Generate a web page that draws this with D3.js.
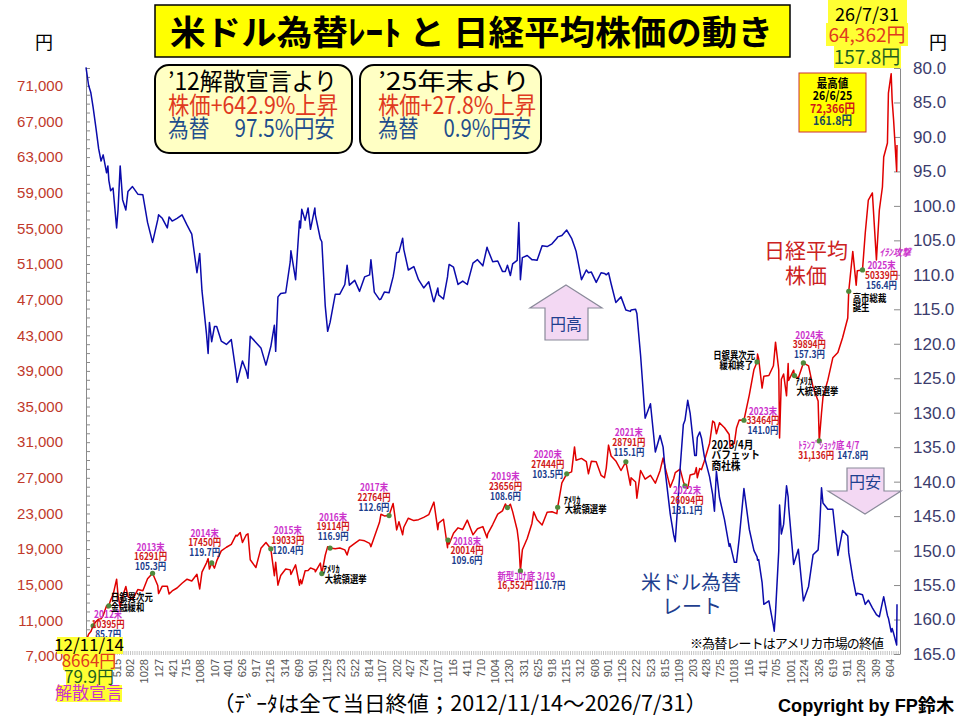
<!DOCTYPE html>
<html><head><meta charset="utf-8">
<script src="https://cdn.jsdelivr.net/npm/d3@7"></script>
<style>body{margin:0;background:#fff}svg{display:block}</style>
</head><body><svg id="c" width="960" height="720"></svg>
<script>
// ---------------- DATA ----------------
const dates = ["2012-11-14","2012-11-30","2012-12-14","2012-12-28","2013-01-15","2013-01-31","2013-02-15","2013-02-28","2013-03-21","2013-03-29","2013-04-04","2013-04-15","2013-04-30","2013-05-22","2013-05-31","2013-06-13","2013-06-28","2013-07-18","2013-07-31","2013-08-28","2013-09-30","2013-10-31","2013-11-29","2013-12-30","2014-01-31","2014-02-05","2014-02-28","2014-03-31","2014-04-11","2014-04-30","2014-05-30","2014-06-30","2014-07-31","2014-08-29","2014-09-30","2014-10-17","2014-10-31","2014-11-28","2014-12-08","2014-12-16","2014-12-30","2015-01-16","2015-01-30","2015-02-27","2015-03-31","2015-04-30","2015-05-29","2015-06-05","2015-06-24","2015-07-08","2015-07-31","2015-08-11","2015-08-25","2015-09-29","2015-10-30","2015-11-30","2015-12-30","2016-01-21","2016-01-29","2016-02-12","2016-02-29","2016-03-31","2016-04-28","2016-05-02","2016-05-31","2016-06-24","2016-06-30","2016-07-08","2016-07-29","2016-08-16","2016-08-31","2016-09-27","2016-09-30","2016-10-31","2016-11-09","2016-11-30","2016-12-15","2016-12-30","2017-01-31","2017-02-28","2017-03-31","2017-04-14","2017-04-28","2017-05-31","2017-06-30","2017-07-31","2017-08-31","2017-09-08","2017-09-29","2017-10-31","2017-11-09","2017-11-30","2017-12-29","2018-01-23","2018-01-31","2018-02-14","2018-02-28","2018-03-23","2018-03-30","2018-04-27","2018-05-31","2018-06-29","2018-07-31","2018-08-31","2018-09-28","2018-10-02","2018-10-26","2018-10-31","2018-11-30","2018-12-25","2018-12-28","2019-01-04","2019-01-31","2019-02-28","2019-03-29","2019-04-26","2019-05-31","2019-06-28","2019-07-31","2019-08-26","2019-08-30","2019-09-30","2019-10-31","2019-11-29","2019-12-17","2019-12-30","2020-01-17","2020-01-31","2020-02-28","2020-03-09","2020-03-19","2020-03-31","2020-04-30","2020-05-29","2020-06-09","2020-06-30","2020-07-31","2020-08-31","2020-09-30","2020-10-30","2020-11-04","2020-11-30","2020-12-30","2021-01-29","2021-02-16","2021-02-26","2021-03-31","2021-04-30","2021-05-13","2021-05-31","2021-06-30","2021-07-30","2021-08-20","2021-08-31","2021-09-14","2021-09-30","2021-10-29","2021-11-30","2021-12-30","2022-01-27","2022-01-31","2022-02-28","2022-03-08","2022-03-31","2022-04-28","2022-05-31","2022-06-30","2022-07-29","2022-08-17","2022-08-31","2022-09-30","2022-10-21","2022-10-31","2022-11-30","2022-12-20","2022-12-30","2023-01-16","2023-01-31","2023-02-28","2023-03-10","2023-03-16","2023-03-31","2023-04-11","2023-04-28","2023-05-31","2023-06-19","2023-06-30","2023-07-12","2023-07-31","2023-08-31","2023-09-29","2023-10-04","2023-10-31","2023-11-13","2023-11-30","2023-12-29","2024-01-31","2024-02-29","2024-03-19","2024-03-22","2024-03-29","2024-04-19","2024-04-30","2024-05-31","2024-06-28","2024-07-03","2024-07-11","2024-07-31","2024-08-05","2024-08-16","2024-08-30","2024-09-17","2024-09-27","2024-09-30","2024-10-31","2024-11-05","2024-11-29","2024-12-30","2025-01-31","2025-02-28","2025-03-31","2025-04-07","2025-04-21","2025-04-30","2025-05-30","2025-06-30","2025-07-31","2025-08-29","2025-09-30","2025-10-06","2025-10-31","2025-11-21","2025-11-28","2025-12-30","2026-01-16","2026-02-04","2026-03-01","2026-03-26","2026-04-13","2026-05-02","2026-05-10","2026-06-02","2026-06-08","2026-06-25","2026-07-01","2026-07-10","2026-07-29","2026-07-31"];

const nikkei = [8664,9446,9737,10395,10879,11139,11174,11559,12636,12398,12634,13275,13861,15627,13774,12445,13677,14808,13668,13338,14456,14328,15662,16291,14915,14008,14841,14828,13960,14304,14632,15162,15621,15425,16174,14532,16414,17460,17935,16756,17450,16864,17674,18798,19207,19520,20563,20461,20868,19737,20585,20720,17806,16930,19083,19747,19033,16017,17518,14952,16027,16758,16666,16147,17234,14952,15575,15106,16569,16596,16887,16683,16449,17425,16251,18308,19273,19114,19041,19119,18909,18335,19197,19650,20033,19925,19646,19275,20356,22011,22913,22724,22764,24124,23098,21154,22068,20617,21454,22468,22202,22305,22554,22865,24120,24270,21184,21920,22351,19155,20014,19561,20773,21385,21206,22259,20601,21276,21522,20261,20704,21756,22927,23294,24066,23656,24041,23205,21143,19698,16552,18917,20194,21878,23178,22288,21710,23140,23185,22977,23695,26434,27444,27663,30467,28966,29179,28813,27448,28860,28792,27284,27013,28090,30670,29453,28893,27822,28791,26170,27002,26527,24718,27821,26848,27280,26393,27802,29222,28092,25937,26891,27587,27969,26568,26094,25822,27327,27446,28144,27011,28041,27923,28856,30888,33370,33189,31943,33172,32619,31858,30526,30859,32585,33487,33464,36287,39166,40004,40888,40369,37068,38406,38488,39583,40580,42224,39102,31458,38063,38648,36203,39830,37920,39081,38474,38208,39894,39572,37156,35618,31136,34280,36045,37965,40487,41070,42718,44933,47944,52411,48626,50254,50339,54480,58180,58970,51450,57060,59640,63010,64580,70190,72366,69400,67160,61400,64362];

const usdjpy = [79.9,82.5,83.6,85.7,88.8,91.7,93.5,92.6,95.2,94.2,96.3,97.8,97.4,103.2,100.5,94.2,99.1,100.6,97.9,97.2,98.3,98.4,102.4,105.3,102.0,101.3,101.8,103.2,101.6,102.2,101.8,101.3,102.8,104.1,109.7,106.9,112.3,118.6,121.4,116.9,119.7,117.5,117.5,119.6,120.1,119.4,124.1,125.6,123.8,122.5,123.9,125.0,118.9,119.8,120.6,123.1,120.4,117.3,121.1,113.2,112.7,112.6,108.1,106.5,110.7,102.2,103.2,100.5,102.1,100.3,103.4,100.3,101.3,104.8,105.2,114.5,118.2,116.9,112.8,112.8,111.4,108.6,111.5,110.8,112.4,110.3,110.0,107.8,112.5,113.6,113.5,112.5,112.6,110.3,109.2,106.8,106.7,104.7,106.3,109.3,108.8,110.7,111.9,111.0,113.7,113.9,111.9,112.9,113.5,110.3,109.6,108.5,108.9,111.4,110.9,111.4,108.3,107.8,108.7,106.0,106.3,108.1,108.0,109.5,109.5,108.6,110.1,108.4,107.9,102.4,110.7,107.5,107.2,107.8,107.8,107.9,105.8,105.9,105.5,104.7,104.5,104.3,103.5,104.7,105.9,106.6,110.7,109.3,109.7,109.6,111.1,109.7,109.8,110.0,109.7,111.3,114.0,113.2,115.1,115.3,115.1,115.0,115.6,121.7,130.8,128.7,135.7,133.3,135.0,138.7,144.7,147.7,148.7,138.1,131.7,131.1,128.2,130.1,136.2,136.2,133.6,132.8,133.7,136.3,139.3,141.9,144.3,138.5,142.3,145.5,149.4,149.0,151.7,151.7,148.2,141.0,146.9,150.0,150.9,151.4,151.3,154.6,157.8,157.3,160.9,161.7,159.0,150.0,143.4,147.6,146.2,140.6,142.2,143.6,152.0,151.6,149.8,157.3,155.2,150.6,149.9,147.8,140.9,143.1,144.0,144.0,150.7,147.1,147.9,150.3,154.0,156.5,156.2,156.4,157.8,157.2,158.3,159.3,159.6,157.5,156.7,159.4,159.8,161.8,161.3,162.0,163.7,157.8];

const leftTickValues = [7000,11000,15000,19000,23000,27000,31000,35000,39000,43000,47000,51000,55000,59000,63000,67000,71000];
const rightTickValues = [80,85,90,95,100,105,110,115,120,125,130,135,140,145,150,155,160,165];
const xTickDates = ["2012-11-14","2013-02-13","2013-05-15","2013-08-02","2013-10-28","2014-01-27","2014-04-21","2014-07-15","2014-10-08","2015-01-07","2015-04-01","2015-06-26","2015-09-17","2015-12-16","2016-03-14","2016-06-09","2016-09-01","2016-11-29","2017-02-23","2017-05-22","2017-08-14","2017-11-07","2018-02-02","2018-04-27","2018-07-24","2018-10-17","2019-01-16","2019-04-11","2019-07-10","2019-10-04","2019-12-30","2020-03-31","2020-06-25","2020-09-18","2020-12-15","2021-03-12","2021-06-08","2021-09-01","2021-11-26","2022-02-22","2022-05-23","2022-08-15","2022-11-09","2023-02-03","2023-04-28","2023-07-25","2023-10-18","2024-01-16","2024-04-11","2024-07-05","2024-10-01","2024-12-24","2025-03-26","2025-06-19","2025-09-11","2025-12-09","2026-03-09","2026-06-04"];

// year-end notes: date, label, nikkei text, fx text
const yearEndDates  = ["2012-12-28","2013-12-30","2014-12-30","2015-12-30","2016-12-30","2017-12-29","2018-12-28","2019-12-30","2020-12-30","2021-12-30","2022-12-30","2023-12-29","2024-12-30","2025-12-30"];
const yearEndLabels = ["2012末","2013末","2014末","2015末","2016末","2017末","2018末","2019末","2020末","2021末","2022末","2023末","2024末","2025末"];
const yearEndNk     = ["10395円","16291円","17450円","19033円","19114円","22764円","20014円","23656円","27444円","28791円","26094円","33464円","39894円","50339円"];
const yearEndFx     = ["85.7円","105.3円","119.7円","120.4円","116.9円","112.6円","109.6円","108.6円","103.5円","115.1円","131.1円","141.0円","157.3円","156.4円"];
// label offsets from the point (layout)
const yearEndOff = [[15,-11],[-2,-26],[-7,-30],[17,-18],[3,-31],[-15,-28],[19,1],[-2,-31],[-19,-19],[3,-29],[2,5],[19,-9],[6,-28],[19,-4]];

// ---------------- SETUP ----------------
const JP = "'Noto Sans CJK JP','Noto Sans',sans-serif";
const LAT = "'Liberation Sans',Arial,'Noto Sans CJK JP',sans-serif";
const parse = d3.timeParse("%Y-%m-%d");
const series = dates.map((d,i)=>({date:parse(d), nk:nikkei[i], fx:usdjpy[i]}));
const svg = d3.select("#c");

const x  = d3.scaleTime().domain([parse("2012-11-14"), parse("2026-07-31")]).range([86, 897]);
const yL = d3.scaleLinear().domain([7000, 73000]).range([656, 68]);
const yR = d3.scaleLinear().domain([80, 165]).range([68, 654]);

const MAG="#cc33cc", RED="#d01818", BLU="#1a3c8c", GRN="#4f8a3c";

// ---------------- AXES ----------------
svg.append("line").attr("x1",86).attr("x2",900).attr("y1",653).attr("y2",653)
  .attr("stroke","#c4c4c4").attr("stroke-width",4).attr("stroke-dasharray","1,1.2");

const fmtX = d3.timeFormat("%-m%d");
svg.append("g").selectAll("text").data(xTickDates.map(parse)).join("text")
  .attr("transform", d=>`translate(${x(d)+2},659) rotate(-90)`)
  .attr("text-anchor","end").attr("dy","0.35em")
  .style("font-family",LAT).style("font-size","11px").attr("fill","#555")
  .text(d=>fmtX(d));

const leftMinor = d3.range(7000, 73001, 1000);
const gL = svg.append("g").attr("transform","translate(86,0)")
  .call(d3.axisRight(yL).tickValues(leftMinor).tickSize(4).tickSizeOuter(0).tickFormat(""));
gL.selectAll("path,line").attr("stroke","#8a8a8a");
const gLl = svg.append("g").attr("transform","translate(63,0)")
  .call(d3.axisLeft(yL).tickValues(leftTickValues).tickSize(0).tickPadding(0).tickFormat(d3.format(",")));
gLl.select(".domain").remove();
gLl.selectAll("text").style("font-family",LAT).style("font-size","15px").attr("fill","#c0392b");

const gR = svg.append("g").attr("transform","translate(900,0)")
  .call(d3.axisLeft(yR).tickValues(rightTickValues).tickSize(6).tickSizeOuter(0).tickFormat(""));
gR.selectAll("path,line").attr("stroke","#8a8a8a");
const gRl = svg.append("g").attr("transform","translate(913,0)")
  .call(d3.axisRight(yR).tickValues(rightTickValues).tickSize(0).tickPadding(0).tickFormat(d3.format(".1f")));
gRl.select(".domain").remove();
gRl.selectAll("text").style("font-family",LAT).style("font-size","17px").attr("fill","#3c3c6c");

svg.append("text").attr("x",44).attr("y",49).attr("text-anchor","middle").style("font-family",JP).style("font-size","18px").text("円");
svg.append("text").attr("x",938).attr("y",49).attr("text-anchor","middle").style("font-family",JP).style("font-size","18px").text("円");

// ---------------- LINES ----------------
svg.append("path").datum(series).attr("fill","none").attr("stroke","#e00000").attr("stroke-width",1.5)
  .attr("stroke-linejoin","round")
  .attr("d", d3.line().x(d=>x(d.date)).y(d=>yL(d.nk)));
svg.append("path").datum(series).attr("fill","none").attr("stroke","#0b0bab").attr("stroke-width",1.5)
  .attr("stroke-linejoin","round")
  .attr("d", d3.line().x(d=>x(d.date)).y(d=>yR(d.fx)));

// ---------------- ANNOTATIONS ----------------
const nkAt = ds => nikkei[dates.indexOf(ds)];
function small(px, py, s, color, anchor="middle", size=10, sx=0.84, italic=false){
  const g = svg.append("g").attr("transform",`translate(${px},${py}) scale(${sx},1)`);
  g.append("text").attr("text-anchor",anchor).attr("dy","0.36em")
   .style("font-family",JP).style("font-size",size+"px").style("font-weight","bold")
   .style("font-style", italic?"italic":"normal").attr("fill",color).text(s);
}
function dot(ds){
  svg.append("circle").attr("cx",x(parse(ds))).attr("cy",yL(nkAt(ds))).attr("r",2.6).attr("fill",GRN);
}
yearEndDates.forEach((ds,i)=>{
  dot(ds);
  const px = x(parse(ds)) + yearEndOff[i][0], py = yL(nkAt(ds)) + yearEndOff[i][1];
  small(px, py, yearEndLabels[i], MAG);
  small(px, py+9.5, yearEndNk[i], RED);
  small(px, py+19.5, yearEndFx[i], BLU);
});
function ev(ds, withDot, lines){
  if(withDot) dot(ds);
  const bx = x(parse(ds)), by = yL(nkAt(ds));
  lines.forEach(l=>small(bx+l[0], by+l[1], l[2], l[3], l[4]||"start", l[5]||10, l[6]||0.84, l[7]||false));
}
ev("2013-04-04", true, [[2,-8,"日銀異次元","#000"],[2,1.5,"金融緩和","#000"]]);
ev("2016-11-09", true, [[1,-4,"ｱﾒﾘｶ","#000"],[3,6,"大統領選挙","#000"]]);
ev("2020-03-19", true, [[-23,5,"新型ｺﾛﾅ底 3/19",MAG],[-23,14.5,"16,552円",RED],[14,14.5,"110.7円",BLU]]);
ev("2020-11-04", true, [[6,-7,"ｱﾒﾘｶ","#000"],[7,2.5,"大統領選挙","#000"]]);
ev("2023-04-11", false, [[10,-25,"2023/4月","#000","start",11,0.88],[10,-14.5,"バフェット","#000","start",11,0.88],[10,-4,"商社株","#000","start",11,0.88]]);
ev("2024-03-19", true, [[-2,-7,"日銀異次元","#000","end"],[-4,3,"緩和終了","#000","end"]]);
ev("2024-11-05", true, [[1,6,"ｱﾒﾘｶ","#000"],[2,15.5,"大統領選挙","#000"]]);
ev("2025-04-07", true, [[-21,4,"ﾄﾗﾝﾌﾟｼｮｯｸ底 4/7",MAG],[-21,14,"31,136円",RED],[18,14,"147.8円",BLU]]);
ev("2025-10-06", true, [[4,7,"高市総裁","#000"],[4,16,"誕生","#000"]]);
ev("2026-03-26", false, [[3,-8,"ｲﾗﾝ攻撃",MAG,"start",10,0.9,true]]);

svg.append("text").attr("x",806).attr("y",258).attr("text-anchor","middle").style("font-family",JP).style("font-size","21px").attr("fill","#cc2222").text("日経平均");
svg.append("text").attr("x",806).attr("y",283).attr("text-anchor","middle").style("font-family",JP).style("font-size","21px").attr("fill","#cc2222").text("株価");
svg.append("text").attr("x",691).attr("y",590).attr("text-anchor","middle").style("font-family",JP).style("font-size","20px").attr("fill","#1f3f8f").text("米ドル為替");
svg.append("text").attr("x",692).attr("y",614).attr("text-anchor","middle").style("font-family",JP).style("font-size","20px").attr("fill","#1f3f8f").text("レート");
svg.append("text").attr("x",690).attr("y",648).style("font-family",JP).style("font-size","13px").attr("textLength",194).attr("fill","#000").text("※為替レートはアメリカ市場の終値");

svg.append("polygon").attr("points","566,285 602,308 588,308 588,340 545,340 545,308 530,308")
  .attr("fill","#f3d8f3").attr("stroke","#8a8a9a").attr("stroke-width",1.2);
svg.append("text").attr("x",566).attr("y",330).attr("text-anchor","middle").style("font-family",JP).style("font-size","16px").attr("fill","#1f3f8f").text("円高");
svg.append("polygon").attr("points","847,468 884,468 884,491 901,491 865,514 828,491 847,491")
  .attr("fill","#f3d8f3").attr("stroke","#8a8a9a").attr("stroke-width",1.2);
svg.append("text").attr("x",865).attr("y",488).attr("text-anchor","middle").style("font-family",JP).style("font-size","16px").attr("fill","#1f3f8f").text("円安");

// ---------------- TITLE & BOXES ----------------
svg.append("rect").attr("x",155).attr("y",5).attr("width",635).attr("height",52).attr("fill","#ffff00").attr("stroke","#000").attr("stroke-width",1.5);
svg.append("text").attr("x",170).attr("y",45).attr("textLength",603).attr("lengthAdjust","spacingAndGlyphs")
  .style("font-family",JP).style("font-size","34px").style("font-weight","bold").text("米ドル為替ﾚｰﾄ と 日経平均株価の動き");

function infoBox(bx, bw, tx, lines){
  svg.append("rect").attr("x",bx).attr("y",65).attr("width",bw).attr("height",88).attr("rx",14)
    .attr("fill","#ffffc4").attr("stroke","#000").attr("stroke-width",2);
  lines.forEach((l,i)=>svg.append("text").attr("x",tx).attr("y",90+i*23.5).attr("textLength",l[2]).attr("lengthAdjust","spacingAndGlyphs")
    .style("font-family",JP).style("font-size","24px").attr("fill",l[1]).text(l[0]));
}
infoBox(155,197,168,[["’12解散宣言より","#000",169],["株価+642.9%上昇","#e03a1e",170],["為替　 97.5%円安","#1f4e8c",167]]);
infoBox(360,181,378,[["’25年末より","#000",152],["株価+27.8%上昇","#e03a1e",158],["為替　 0.9%円安","#1f4e8c",153]]);

svg.append("rect").attr("x",828).attr("y",0).attr("width",79).attr("height",23).attr("fill","#ffff33");
svg.append("rect").attr("x",826).attr("y",23).attr("width",82).attr("height",23).attr("fill","#ffff33");
svg.append("rect").attr("x",834).attr("y",46).attr("width",67).attr("height",22).attr("fill","#ffff33");
[["26/7/31","#000",21,18],["64,362円","#e03a1e",42,19],["157.8円","#1e5e1e",64,19]].forEach(l=>
  svg.append("text").attr("x",867).attr("y",l[2]).attr("text-anchor","middle").style("font-family",JP).style("font-size",l[3]+"px").attr("fill",l[1]).text(l[0]));

svg.append("rect").attr("x",799).attr("y",73).attr("width",67).attr("height",59).attr("fill","#ffff00").attr("stroke","#cc3333").attr("stroke-width",1);
[["最高値","#000",84],["26/6/25","#000",96],["72,366円","#d01818",108.5],["161.8円","#1a4a5a",120.5]].forEach(l=>
  small(832.5, l[2], l[0], l[1], "middle", 12, 0.88));

svg.append("rect").attr("x",57).attr("y",637).attr("width",66).attr("height",17).attr("fill","#ffff33");
svg.append("rect").attr("x",63).attr("y",654).attr("width",52).attr("height",16).attr("fill","#ffff33");
svg.append("rect").attr("x",66).attr("y",670).attr("width",46).attr("height",15).attr("fill","#ffff33");
svg.append("rect").attr("x",57).attr("y",685).attr("width",65).attr("height",17).attr("fill","#ffff33");
[["12/11/14","#000",651],["8664円","#e03a1e",667],["79.9円","#1e5e1e",683],["解散宣言","#cc33cc",699]].forEach(l=>
  svg.append("text").attr("x",89).attr("y",l[2]).attr("text-anchor","middle").style("font-family",JP).style("font-size","17px").attr("fill",l[1]).text(l[0]));

svg.append("text").attr("x",213).attr("y",711).attr("textLength",494).attr("lengthAdjust","spacingAndGlyphs")
  .style("font-family",JP).style("font-size","21px").text("（ﾃﾞｰﾀは全て当日終値；2012/11/14～2026/7/31）");
svg.append("text").attr("x",778).attr("y",712).attr("textLength",176).attr("lengthAdjust","spacingAndGlyphs")
  .style("font-family",LAT).style("font-size","18px").style("font-weight","bold").text("Copyright by FP鈴木");
</script></body></html>
